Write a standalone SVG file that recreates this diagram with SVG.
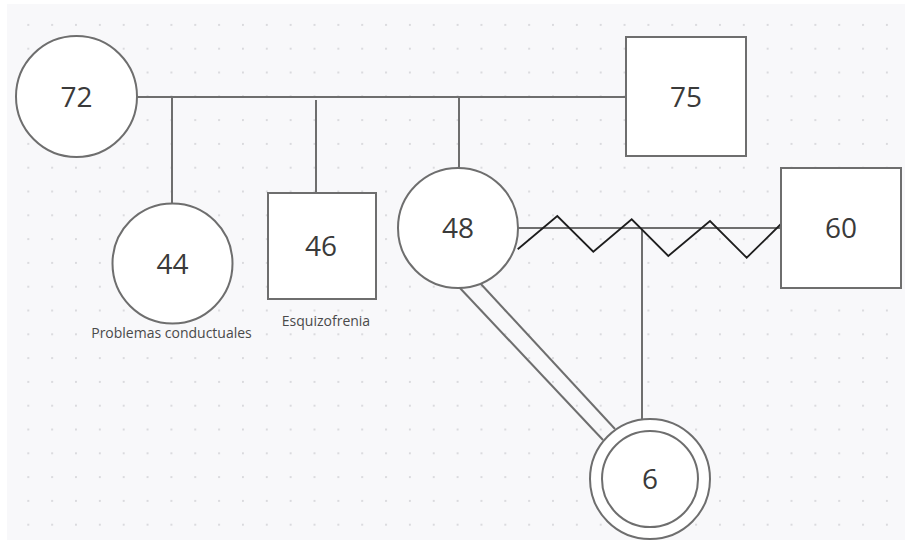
<svg xmlns="http://www.w3.org/2000/svg" width="905" height="540" viewBox="0 0 905 540">
  <defs>
    <pattern id="dots" x="16.4" y="13" width="23.85" height="23.8" patternUnits="userSpaceOnUse">
      <circle cx="11.9" cy="11.9" r="1" fill="#d2d2d6"/>
    </pattern>
    <style>
      .shape { fill: #ffffff; stroke: #6e6e6e; stroke-width: 2; }
      .line { fill: none; stroke: #6e6e6e; stroke-width: 2; }
      .zig { fill: none; stroke: #1e1e1e; stroke-width: 1.8; stroke-linejoin: miter; }
      .num { font-family: "Open Sans", "Noto Sans", sans-serif; font-size: 28px; fill: #3a3a3a; text-anchor: middle; }
      .lbl { font-family: "Open Sans", "Noto Sans", sans-serif; font-size: 14px; fill: #4a4a4a; text-anchor: middle; }
    </style>
  </defs>
  <rect x="0" y="0" width="905" height="540" fill="#ffffff"/>
  <rect x="7" y="4" width="898" height="536" fill="#f8f8fa"/>
  <rect x="7" y="4" width="898" height="536" fill="url(#dots)"/>

  <g id="connectors">
    <line class="line" x1="137" y1="97" x2="626" y2="97"/>
    <line class="line" x1="172" y1="97" x2="172" y2="204"/>
    <line class="line" x1="316" y1="100" x2="316" y2="193"/>
    <line class="line" x1="459" y1="97" x2="459" y2="168"/>
    <line class="line" x1="518" y1="228" x2="781" y2="228"/>
    <line class="line" x1="642" y1="228" x2="642" y2="419"/>
    <line class="line" x1="459" y1="287" x2="603" y2="440"/>
    <line class="line" x1="480" y1="283" x2="615" y2="429"/>
    <polyline class="zig" points="517.7,249.3 557.3,216 593.3,251.7 631.7,219.3 668.3,256 710,221 746.7,257.7 785,220"/>
  </g>

  <g id="n72">
    <circle class="shape" cx="76.5" cy="96.5" r="60.5"/>
    <text class="num" x="76.5" y="106.5">72</text>
  </g>
  <g id="n75">
    <rect class="shape" x="626" y="37" width="120" height="119"/>
    <text class="num" x="686" y="106.5">75</text>
  </g>
  <g id="n44">
    <circle class="shape" cx="172.5" cy="263.5" r="60"/>
    <text class="num" x="172.5" y="274">44</text>
    <text class="lbl" x="171.5" y="337.5">Problemas conductuales</text>
  </g>
  <g id="n46">
    <rect class="shape" x="268" y="193" width="108" height="106"/>
    <text class="num" x="321" y="256">46</text>
    <text class="lbl" x="326" y="326">Esquizofrenia</text>
  </g>
  <g id="n48">
    <circle class="shape" cx="458" cy="228" r="60"/>
    <text class="num" x="458" y="238">48</text>
  </g>
  <g id="n60">
    <rect class="shape" x="781" y="168" width="120" height="120"/>
    <text class="num" x="841" y="238">60</text>
  </g>
  <g id="n6">
    <circle class="shape" cx="650" cy="479" r="60"/>
    <circle class="shape" cx="650" cy="479" r="48"/>
    <text class="num" x="650" y="489">6</text>
  </g>
</svg>
